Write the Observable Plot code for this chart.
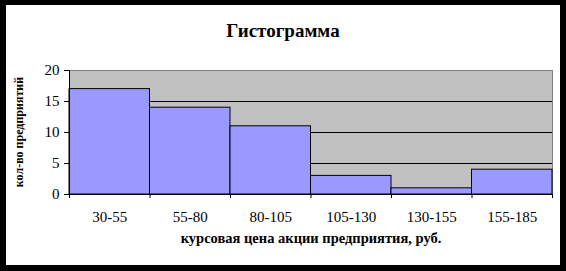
<!DOCTYPE html>
<html>
<head>
<meta charset="utf-8">
<script src="https://cdn.jsdelivr.net/npm/d3@7"></script>
<script src="https://cdn.jsdelivr.net/npm/@observablehq/plot@0.6"></script>
<style>
  html, body { margin: 0; padding: 0; background: #fff; }
  #wrap { position: relative; width: 566px; height: 271px; overflow: hidden; font-family: "Liberation Serif", "Times New Roman", serif; color: #000; }
  #wrap svg { position: absolute; left: 0; top: 0; }
  .t { position: absolute; white-space: nowrap; font-weight: bold; }
  #border { position: absolute; left: 0; top: 0; width: 566px; height: 271px; box-sizing: border-box;
            border-style: solid; border-color: #000; border-width: 5px 6px 6px 6px; pointer-events: none; }
</style>
</head>
<body>
<div id="wrap"></div>
<script>
const categories = ["30-55", "55-80", "80-105", "105-130", "130-155", "155-185"];
const counts = [17, 14, 11, 3, 1, 4];
const yTicks = [0, 5, 10, 15, 20];
const gridValues = [5, 10, 15];
const titleText = "Гистограмма";
const xLabelText = "курсовая цена акции предприятия, руб.";
const yLabelText = "кол-во предприятий";

const data = categories.map((c, i) => ({ c, i, v: counts[i] }));
const boundaries = d3.range(categories.length + 1);
const centers = categories.map((c, i) => i + 0.5);

const chart = Plot.plot({
  width: 566,
  height: 271,
  marginLeft: 69,
  marginRight: 14,
  marginTop: 70,
  marginBottom: 77,
  style: { fontFamily: "Liberation Serif, Times New Roman, serif", fontSize: "15px", color: "#000", background: "transparent" },
  x: { domain: [0, categories.length] },
  y: { domain: [0, 20] },
  marks: [
    Plot.frame({ fill: "#c0c0c0", stroke: "#808080" }),
    Plot.ruleY(gridValues, { stroke: "#000", strokeWidth: 1 }),
    Plot.rectY(data, { x1: "i", x2: d => d.i + 1, y1: 0, y2: "v", fill: "#9999ff", stroke: "#000", strokeWidth: 1 }),
    Plot.ruleX([0], { stroke: "#000" }),
    Plot.ruleY([0], { stroke: "#000" }),
    Plot.axisY({ ticks: yTicks, tickSize: 5, tickPadding: 5, label: null, stroke: "#000", fontSize: 15 }),
    Plot.axisX({ ticks: boundaries, tickSize: 4, tickFormat: () => "", label: null, stroke: "#000" }),
    Plot.axisX({ ticks: centers, tickSize: 0, tickPadding: 17, tickFormat: d => categories[Math.floor(d)], label: null, fontSize: 15 })
  ]
});

const wrap = document.getElementById("wrap");
wrap.appendChild(chart);

// Title
const title = document.createElement("div");
title.className = "t";
title.textContent = titleText;
title.style.cssText = "font-size:19px;line-height:19px;left:83px;width:400px;text-align:center;top:21px;";
wrap.appendChild(title);

// X label
const xl = document.createElement("div");
xl.className = "t";
xl.textContent = xLabelText;
xl.style.cssText = "font-size:14.5px;line-height:14px;left:111px;width:400px;text-align:center;top:231px;";
wrap.appendChild(xl);

// Y label
const yl = document.createElement("div");
yl.className = "t";
yl.textContent = yLabelText;
yl.style.cssText = "font-size:12px;line-height:12px;width:200px;height:12px;text-align:center;left:-81px;top:126px;transform:rotate(-90deg);transform-origin:50% 50%;";
wrap.appendChild(yl);

const border = document.createElement("div");
border.id = "border";
wrap.appendChild(border);
</script>
</body>
</html>
